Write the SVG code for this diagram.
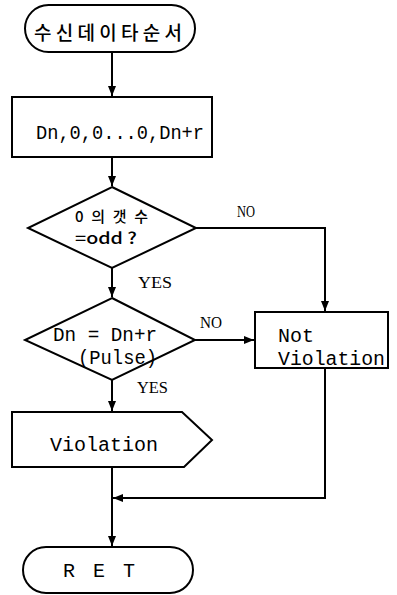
<svg xmlns="http://www.w3.org/2000/svg" width="397" height="595" viewBox="0 0 397 595">
<defs>
<marker id="ah" viewBox="0 0 10 8" refX="10" refY="4" markerWidth="10" markerHeight="8" markerUnits="userSpaceOnUse" orient="auto">
<path d="M0,0 L10,4 L0,8 Z" fill="#000"/>
</marker>
</defs>
<style>
.s{fill:#fff;stroke:#000;stroke-width:2}
.c{fill:none;stroke:#000;stroke-width:2}
.m{font-family:"Liberation Mono",monospace;font-size:20px;fill:#000}
.k{font-family:"Noto Sans CJK KR","Noto Sans",sans-serif;fill:#000;font-weight:500}
.l{font-family:"Liberation Serif",serif;font-size:17px;fill:#000}
</style>
<rect width="397" height="595" fill="#fff"/>
<g id="connectors">
<path class="c" d="M112,52 V96" marker-end="url(#ah)"/>
<path class="c" d="M112,157 V186" marker-end="url(#ah)"/>
<path class="c" d="M112,268 V297" marker-end="url(#ah)"/>
<path class="c" d="M196,228 H325 V311" marker-end="url(#ah)"/>
<path class="c" d="M195,340 H254" marker-end="url(#ah)"/>
<path class="c" d="M112,380 V411" marker-end="url(#ah)"/>
<path class="c" d="M325,368 V498 H113" marker-end="url(#ah)"/>
<path class="c" d="M112,467 V546" marker-end="url(#ah)"/>
<text class="l" x="237" y="217" textLength="18" lengthAdjust="spacingAndGlyphs">NO</text>
<text class="l" x="138" y="288" textLength="34" lengthAdjust="spacingAndGlyphs">YES</text>
<text class="l" x="200" y="328" textLength="22" lengthAdjust="spacingAndGlyphs">NO</text>
<text class="l" x="137" y="393" textLength="31" lengthAdjust="spacingAndGlyphs">YES</text>
</g>
<g id="start">
<rect class="s" x="25" y="5" width="170" height="47" rx="23.5"/>
<text class="k" x="34" y="40" font-size="19" textLength="148">수신데이타순서</text>
</g>
<g id="data">
<rect class="s" x="12" y="97" width="200" height="60"/>
<text class="m" x="36" y="139" textLength="168" lengthAdjust="spacingAndGlyphs">Dn,0,0...0,Dn+r</text>
</g>
<g id="dec1">
<polygon class="s" points="112,187 196,228 112,268 28,228"/>
<text class="k" x="75" y="222" font-size="15" textLength="73">0의갯수</text>
<text class="k" x="75" y="244" font-size="16" textLength="62" lengthAdjust="spacingAndGlyphs">=odd ?</text>
</g>
<g id="dec2">
<polygon class="s" points="112,298 195,340 112,380 25,340"/>
<text class="m" x="53" y="341" textLength="104" lengthAdjust="spacingAndGlyphs">Dn = Dn+r</text>
<text class="m" x="78" y="364" textLength="79" lengthAdjust="spacingAndGlyphs">(Pulse)</text>
</g>
<g id="notviolation">
<rect class="s" x="255" y="312" width="133" height="56"/>
<text class="m" x="278" y="342" textLength="36" lengthAdjust="spacingAndGlyphs">Not</text>
<text class="m" x="278" y="365" textLength="107" lengthAdjust="spacingAndGlyphs">Violation</text>
</g>
<g id="violation">
<polygon class="s" points="12,412 182,412 212,440 184,467 12,467"/>
<text class="m" x="50" y="451" textLength="108" lengthAdjust="spacingAndGlyphs">Violation</text>
</g>
<g id="ret">
<rect class="s" x="23" y="547" width="170" height="46" rx="23"/>
<text class="m" x="63" y="577" textLength="72">R E T</text>
</g>
</svg>
